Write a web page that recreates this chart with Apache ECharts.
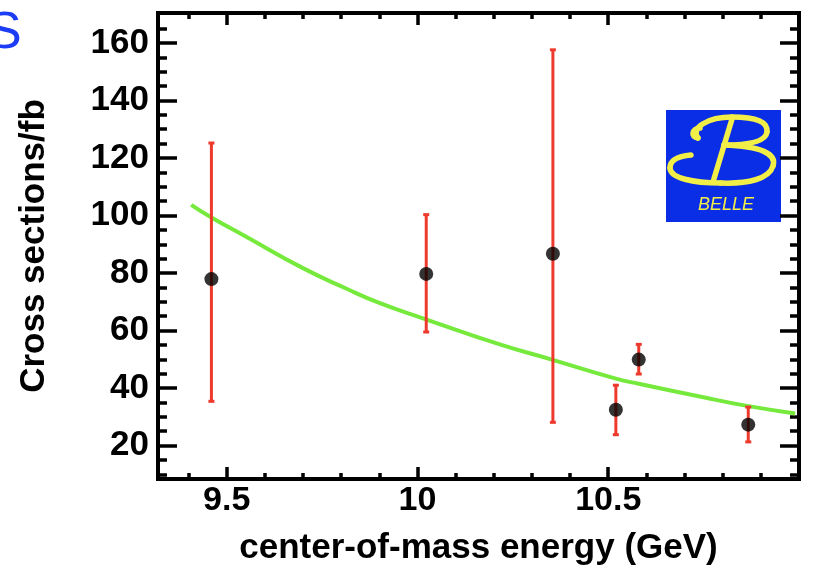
<!DOCTYPE html>
<html>
<head>
<meta charset="utf-8">
<script src="https://cdn.jsdelivr.net/npm/echarts@6/dist/echarts.min.js"></script>
<style>
  html, body { margin: 0; padding: 0; background: #ffffff; }
  #chart { width: 820px; height: 584px; }
</style>
</head>
<body>
<div id="chart"></div>
<script>
// Measured cross sections at the Upsilon resonances and the continuum
const energies = [9.46, 10.023, 10.355, 10.52, 10.58, 10.867];
const crossSections = [77.9, 79.7, 86.7, 32.5, 49.9, 27.3];
const errLow = [35.4, 59.5, 28.1, 23.8, 44.9, 21.3];
const errHigh = [125.2, 100.3, 157.6, 41.0, 55.2, 33.4];

// Fitted energy dependence (green curve)
const fitEnergy = [9.407, 9.46, 9.55, 9.70, 9.81, 9.90, 10.02, 10.22, 10.35, 10.52, 10.58, 10.74, 10.86, 10.99];
const fitValue  = [103.7, 99.3, 92.7, 81.7, 74.8, 69.6, 64.0, 55.0, 50.0, 43.3, 41.5, 37.1, 33.9, 31.2];

// Axis ticks
const xMajorTicks = [9.5, 10, 10.5];
const xMinorTicks = [9.4, 9.6, 9.7, 9.8, 9.9, 10.1, 10.2, 10.3, 10.4, 10.6, 10.7, 10.8, 10.9];
const yMajorTicks = [20, 40, 60, 80, 100, 120, 140, 160];
const yMinorTicks = [10, 15, 25, 30, 35, 45, 50, 55, 65, 70, 75, 85, 90, 95, 105, 110, 115, 125, 130, 135, 145, 150, 155, 165];

const X_MIN = 9.32, X_MAX = 11.0;
const Y_MIN = 8.4, Y_MAX = 170.4;

const FONT = '"Liberation Sans", Arial, Helvetica, sans-serif';
const chart = echarts.init(document.getElementById('chart'), null, { renderer: 'canvas' });

const TICK_STYLE = { color: '#000', width: 3.5 };

function xAxisDef(position, ticks, len, withLabels, extra) {
  return Object.assign({
    type: 'value', position: position, min: X_MIN, max: X_MAX,
    axisLine: { show: false },
    splitLine: { show: false },
    axisTick: { show: true, inside: true, length: len, customValues: ticks, lineStyle: TICK_STYLE },
    axisLabel: withLabels ? {
      show: true, customValues: ticks, margin: 5,
      color: '#000', fontFamily: FONT, fontWeight: 'bold', fontSize: 34
    } : { show: false }
  }, extra || {});
}

function yAxisDef(position, ticks, len, withLabels, extra) {
  return Object.assign({
    type: 'value', position: position, min: Y_MIN, max: Y_MAX,
    axisLine: { show: false },
    splitLine: { show: false },
    axisTick: { show: true, inside: true, length: len, customValues: ticks, lineStyle: TICK_STYLE },
    axisLabel: withLabels ? {
      show: true, customValues: ticks, margin: 9,
      color: '#000', fontFamily: FONT, fontWeight: 'bold', fontSize: 35
    } : { show: false }
  }, extra || {});
}

const errorData = energies.map((e, i) => [e, errLow[i], errHigh[i]]);
const pointData = energies.map((e, i) => [e, crossSections[i]]);
const fitData = fitEnergy.map((e, i) => [e, fitValue[i]]);

// Script "B" of the experiment logo: cubic segments [x1,y1, c1x,c1y, c2x,c2y, x2,y2]
// in local coordinates of the blue box
const logoCurves = [
  [34, 18, 26, 19, 24, 27, 32, 28],
  [32, 28, 24, 18, 42, 7, 66, 7],
  [66, 7, 91, 7, 102, 12, 101, 22],
  [101, 22, 100, 31, 84, 35, 58, 35],
  [58, 35, 95, 36, 111, 44, 107, 56],
  [107, 56, 103, 69, 82, 74, 55, 73],
  [55, 73, 27, 73, 4, 68, 4, 58],
  [4, 58, 4, 50, 13, 46, 25, 45]
];
const LOGO_YELLOW = '#f2ee48';
const logoStroke = { fill: null, stroke: LOGO_YELLOW, lineWidth: 5.5, lineCap: 'round', lineJoin: 'round' };

const logoChildren = [
  { type: 'rect', shape: { x: 0, y: 0, width: 115, height: 112 }, style: { fill: '#0a2de6' } }
].concat(logoCurves.map(c => ({
  type: 'bezierCurve',
  shape: { x1: c[0], y1: c[1], cpx1: c[2], cpy1: c[3], cpx2: c[4], cpy2: c[5], x2: c[6], y2: c[7] },
  style: logoStroke
}))).concat([
  { type: 'line', shape: { x1: 66, y1: 9, x2: 47, y2: 72 }, style: logoStroke },
  { type: 'text', x: 60, y: 95,
    style: { text: 'BELLE', fill: LOGO_YELLOW, font: 'italic 18px ' + FONT,
             align: 'center', verticalAlign: 'middle' } }
]);

const option = {
  animation: false,
  backgroundColor: '#ffffff',
  grid: {
    left: 158, right: 21, top: 13, bottom: 105,
    show: true, borderColor: '#000', borderWidth: 4, backgroundColor: 'transparent'
  },
  xAxis: [
    xAxisDef('bottom', xMajorTicks, 12, true, {
      name: 'center-of-mass energy (GeV)', nameLocation: 'middle', nameGap: 52,
      nameTextStyle: { color: '#000', fontFamily: FONT, fontWeight: 'bold', fontSize: 35 }
    }),
    xAxisDef('bottom', xMinorTicks, 6, false),
    xAxisDef('top', xMajorTicks, 12, false),
    xAxisDef('top', xMinorTicks, 6, false)
  ],
  yAxis: [
    yAxisDef('left', yMajorTicks, 19, true, {
      name: 'Cross sections/fb', nameLocation: 'middle', nameGap: 106, nameRotate: 90,
      nameTextStyle: { color: '#000', fontFamily: FONT, fontWeight: 'bold', fontSize: 35 }
    }),
    yAxisDef('left', yMinorTicks, 9, false),
    yAxisDef('right', yMajorTicks, 19, false),
    yAxisDef('right', yMinorTicks, 9, false)
  ],
  series: [
    {
      name: 'fit', type: 'line', data: fitData, smooth: true, showSymbol: false,
      xAxisIndex: 0, yAxisIndex: 0, z: 3,
      lineStyle: { color: '#76ea3c', width: 4 }
    },
    {
      name: 'errors', type: 'custom', data: errorData, xAxisIndex: 0, yAxisIndex: 0, z: 4,
      renderItem: function (params, api) {
        const x = api.value(0);
        const lo = api.coord([x, api.value(1)]);
        const hi = api.coord([x, api.value(2)]);
        const style = { stroke: '#ee3a2c', lineWidth: 3 };
        const cap = 3;
        return {
          type: 'group',
          children: [
            { type: 'line', shape: { x1: lo[0], y1: lo[1], x2: hi[0], y2: hi[1] }, style: style },
            { type: 'line', shape: { x1: lo[0] - cap, y1: lo[1], x2: lo[0] + cap, y2: lo[1] }, style: style },
            { type: 'line', shape: { x1: hi[0] - cap, y1: hi[1], x2: hi[0] + cap, y2: hi[1] }, style: style }
          ]
        };
      }
    },
    {
      name: 'data', type: 'scatter', data: pointData, xAxisIndex: 0, yAxisIndex: 0, z: 5,
      symbol: 'circle', symbolSize: 14,
      itemStyle: { color: '#000' }
    }
  ],
  graphic: [
    {
      type: 'text', left: -13, top: 8,
      style: { text: 'S', fill: '#1d3cf5', font: '52px ' + FONT }
    },
    { type: 'group', x: 666, y: 110, children: logoChildren }
  ]
};

chart.setOption(option);
</script>
</body>
</html>
